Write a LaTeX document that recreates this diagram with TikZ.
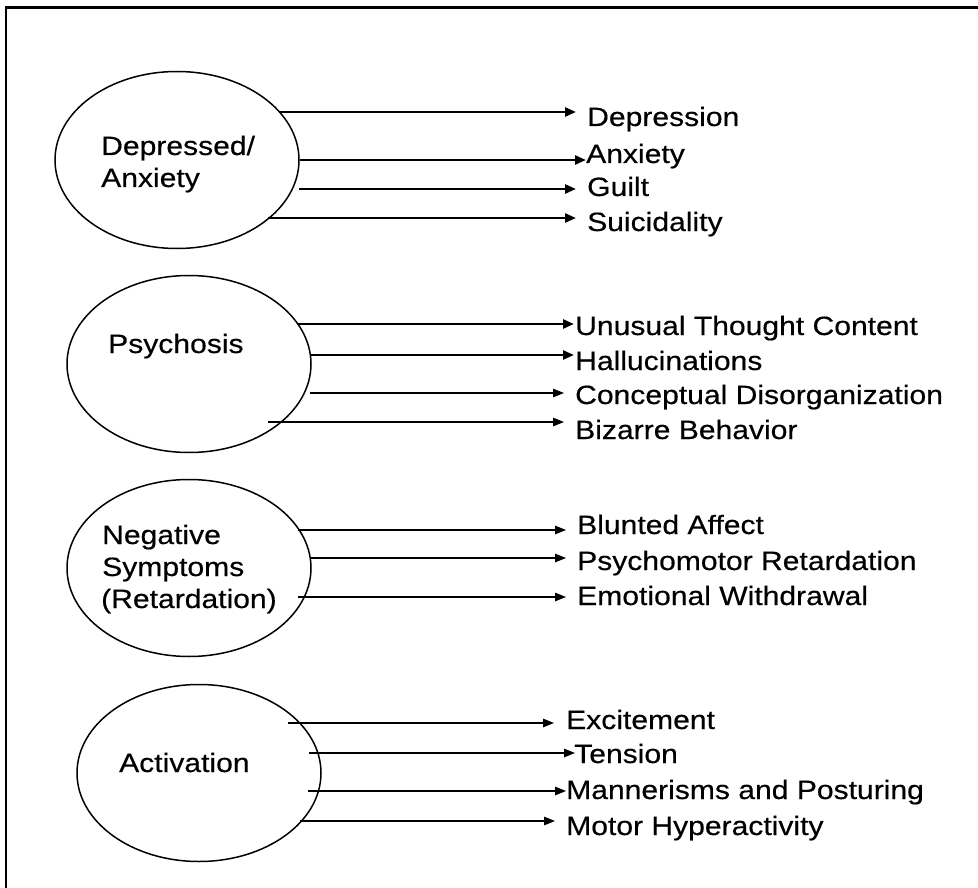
\documentclass[tikz,border=0pt]{standalone}
\usepackage{fontspec}
\setmainfont{Liberation Sans}[FakeStretch=1.135,FakeBold=0.4]
\usetikzlibrary{arrows.meta,shapes.geometric}

\begin{document}
\begin{tikzpicture}[x=1pt,y=-1pt,
  factor/.style={ellipse,draw,line width=1.5pt,minimum width=244pt,minimum height=177pt,inner sep=0pt},
  ftext/.style={anchor=base west,inner sep=0pt,font=\fontsize{26.5}{32}\selectfont},
  lbl/.style={anchor=base west,inner sep=0pt,font=\fontsize{26.5}{32}\selectfont},
  arrthick/.style={line width=2.5pt,-{Triangle[length=11pt,width=9pt]}},
  arrthin/.style={line width=1.4pt,-{Triangle[length=11pt,width=8.5pt]}}]
\useasboundingbox (0,0) rectangle (978,888);

% outer frame (top and left edges)
\draw[line width=2.5pt] (6,888) -- (6,7.5) -- (978,7.5);

% factor ellipses
\node[factor] (e1) at (177,160) {};
\node[factor] (e2) at (189,364) {};
\node[factor] (e3) at (189,568) {};
\node[factor] (e4) at (199,773) {};

% factor names
\node[ftext] (n1a) at (101,155) {Depressed/};
\node[ftext] (n1b) at (101,187) {Anxiety};
\node[ftext] (n2) at (108,353) {Psychosis};
\node[ftext] (n3a) at (102,544) {Negative};
\node[ftext] (n3b) at (102,576) {Symptoms};
\node[ftext] (n3c) at (101,608) {(Retardation)};
\node[ftext] (n4) at (119,772) {Activation};

% item labels
\node[lbl] (l11) at (587,126) {Depression};
\node[lbl] (l12) at (586,163) {Anxiety};
\node[lbl] (l13) at (587,196) {Guilt};
\node[lbl] (l14) at (587,231) {Suicidality};

\node[lbl] (l21) at (575,335) {Unusual Thought Content};
\node[lbl] (l22) at (575,370) {Hallucinations};
\node[lbl] (l23) at (575,404) {Conceptual Disorganization};
\node[lbl] (l24) at (575,439) {Bizarre Behavior};

\node[lbl] (l31) at (577,534) {Blunted Affect};
\node[lbl] (l32) at (577,570) {Psychomotor Retardation};
\node[lbl] (l33) at (577,605) {Emotional Withdrawal};

\node[lbl] (l41) at (566,729) {Excitement};
\node[lbl] (l42) at (574,763) {Tension};
\node[lbl] (l43) at (566,799) {Mannerisms and Posturing};
\node[lbl] (l44) at (566,835) {Motor Hyperactivity};

% arrow start and tip points
\coordinate (s11) at (280,112); \coordinate (t11) at (576,112);
\coordinate (s12) at (300,160); \coordinate (t12) at (586,160);
\coordinate (s13) at (299,189); \coordinate (t13) at (576,189);
\coordinate (s14) at (268,218); \coordinate (t14) at (576,218);

\coordinate (s21) at (298,324); \coordinate (t21) at (574,324);
\coordinate (s22) at (310,355); \coordinate (t22) at (574,355);
\coordinate (s23) at (310,393); \coordinate (t23) at (564,393);
\coordinate (s24) at (268,422); \coordinate (t24) at (564,422);

\coordinate (s31) at (298,530); \coordinate (t31) at (566,530);
\coordinate (s32) at (310,558); \coordinate (t32) at (566,558);
\coordinate (s33) at (298,597); \coordinate (t33) at (566,597);

\coordinate (s41) at (288,723); \coordinate (t41) at (554,723);
\coordinate (s42) at (309,753); \coordinate (t42) at (575,753);
\coordinate (s43) at (308,791); \coordinate (t43) at (566,791);
\coordinate (s44) at (300,821); \coordinate (t44) at (555,821);

% connectors
\draw[arrthick] (s11) -- (t11);
\draw[arrthick] (s12) -- (t12);
\draw[arrthick] (s13) -- (t13);
\draw[arrthick] (s14) -- (t14);

\draw[arrthick] (s21) -- (t21);
\draw[arrthick] (s22) -- (t22);
\draw[arrthin] (s23) -- (t23);
\draw[arrthin] (s24) -- (t24);

\draw[arrthin] (s31) -- (t31);
\draw[arrthin] (s32) -- (t32);
\draw[arrthin] (s33) -- (t33);

\draw[arrthin] (s41) -- (t41);
\draw[arrthin] (s42) -- (t42);
\draw[arrthin] (s43) -- (t43);
\draw[arrthin] (s44) -- (t44);
\end{tikzpicture}
\end{document}
